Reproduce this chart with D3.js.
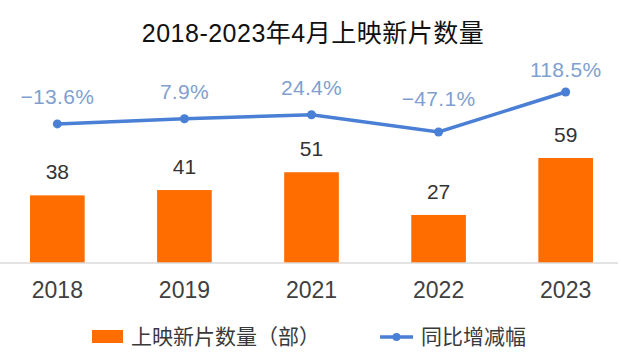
<!DOCTYPE html>
<html>
<head>
<meta charset="utf-8">
<script src="https://cdn.jsdelivr.net/npm/d3@7"></script>
<style>
  body { margin: 0; background: #fff; }
  text { font-family: "Liberation Sans", "Noto Sans CJK SC", sans-serif; }
</style>
</head>
<body>
<div class="chart"></div>
<script>
const years = ["2018", "2019", "2021", "2022", "2023"]
const films = [38, 41, 51, 27, 59]
const growth = [-13.6, 7.9, 24.4, -47.1, 118.5]
const growthLabels = ["\u221213.6%", "7.9%", "24.4%", "\u221247.1%", "118.5%"]

const svgWidth = 620
const svgHeight = 362
const baseY = 263

const barColor = '#ff6d00'
const lineColor = '#4a7fd6'

// small manual nudges for the % labels, like the original
const pctNudge = [0, 0, 0, -6, 5]

const svg = d3.select(".chart").append("svg")
              .attr('width', svgWidth)
              .attr('height', svgHeight)

const xScale = d3.scaleBand()
              .domain(years)
              .range([-6.2, 629.2])
              .paddingInner(0.57)
              .paddingOuter(0.285)

const yBar = d3.scaleLinear()
              .domain([0, 59])
              .range([baseY, 158])

const yLine = d3.scaleLinear()
              .domain([-47.1, 118.5])
              .range([132, 92])

const cx = d => xScale(d) + xScale.bandwidth() / 2

// title
svg.append('text')
    .attr('x', 313)
    .attr('y', 42)
    .attr('text-anchor', 'middle')
    .attr('fill', '#111')
    .attr('font-size', '25px')
    .attr('letter-spacing', '0.5px')
    .text('2018-2023年4月上映新片数量')

// bars
films.forEach((d, i) => {
    svg.append('rect')
        .attr('x', xScale(years[i]))
        .attr('y', yBar(d))
        .attr('width', xScale.bandwidth())
        .attr('height', baseY - yBar(d))
        .attr('fill', barColor)

    svg.append('text')
        .attr('x', cx(years[i]))
        .attr('y', yBar(d) - 16)
        .attr('text-anchor', 'middle')
        .attr('fill', '#333')
        .attr('font-size', '21px')
        .text(d)
})

// x axis
const xAxis = d3.axisBottom(xScale).tickSize(0).tickPadding(19)
const ax = svg.append('g')
    .attr('transform', `translate(0, ${baseY})`)
    .call(xAxis)
ax.select('.domain').remove()
ax.append('line')
    .attr('x1', 0).attr('x2', 618)
    .attr('stroke', '#dadada')
    .attr('stroke-width', 1.5)
ax.selectAll('.tick text')
    .attr('font-size', '23px')
    .attr('font-family', '"Liberation Sans", sans-serif')
    .attr('fill', '#404040')

// growth line
const line = d3.line()
    .x((d, i) => cx(years[i]))
    .y(d => yLine(d))

svg.append('path')
    .datum(growth)
    .attr('d', line)
    .attr('fill', 'none')
    .attr('stroke', lineColor)
    .attr('stroke-width', 3.5)

growth.forEach((d, i) => {
    svg.append('circle')
        .attr('cx', cx(years[i]))
        .attr('cy', yLine(d))
        .attr('r', 4.5)
        .attr('fill', lineColor)

    svg.append('text')
        .attr('x', cx(years[i]))
        .attr('y', yLine(d) - 20 + pctNudge[i])
        .attr('text-anchor', 'middle')
        .attr('fill', '#7f9fd0')
        .attr('font-size', '21px')
        .attr('letter-spacing', '0.3px')
        .text(growthLabels[i])
})

// legend
const lg = svg.append('g')
lg.append('rect')
    .attr('x', 92).attr('y', 330)
    .attr('width', 31).attr('height', 13)
    .attr('fill', barColor)
lg.append('text')
    .attr('x', 131).attr('y', 344)
    .attr('fill', '#3a3a3a')
    .attr('font-size', '21px')
    .text('上映新片数量（部）')

lg.append('line')
    .attr('x1', 380).attr('x2', 413)
    .attr('y1', 337).attr('y2', 337)
    .attr('stroke', lineColor)
    .attr('stroke-width', 3.5)
lg.append('circle')
    .attr('cx', 396.5).attr('cy', 337)
    .attr('r', 4)
    .attr('fill', lineColor)
lg.append('text')
    .attr('x', 421).attr('y', 344)
    .attr('fill', '#3a3a3a')
    .attr('font-size', '21px')
    .text('同比增减幅')
</script>
</body>
</html>
